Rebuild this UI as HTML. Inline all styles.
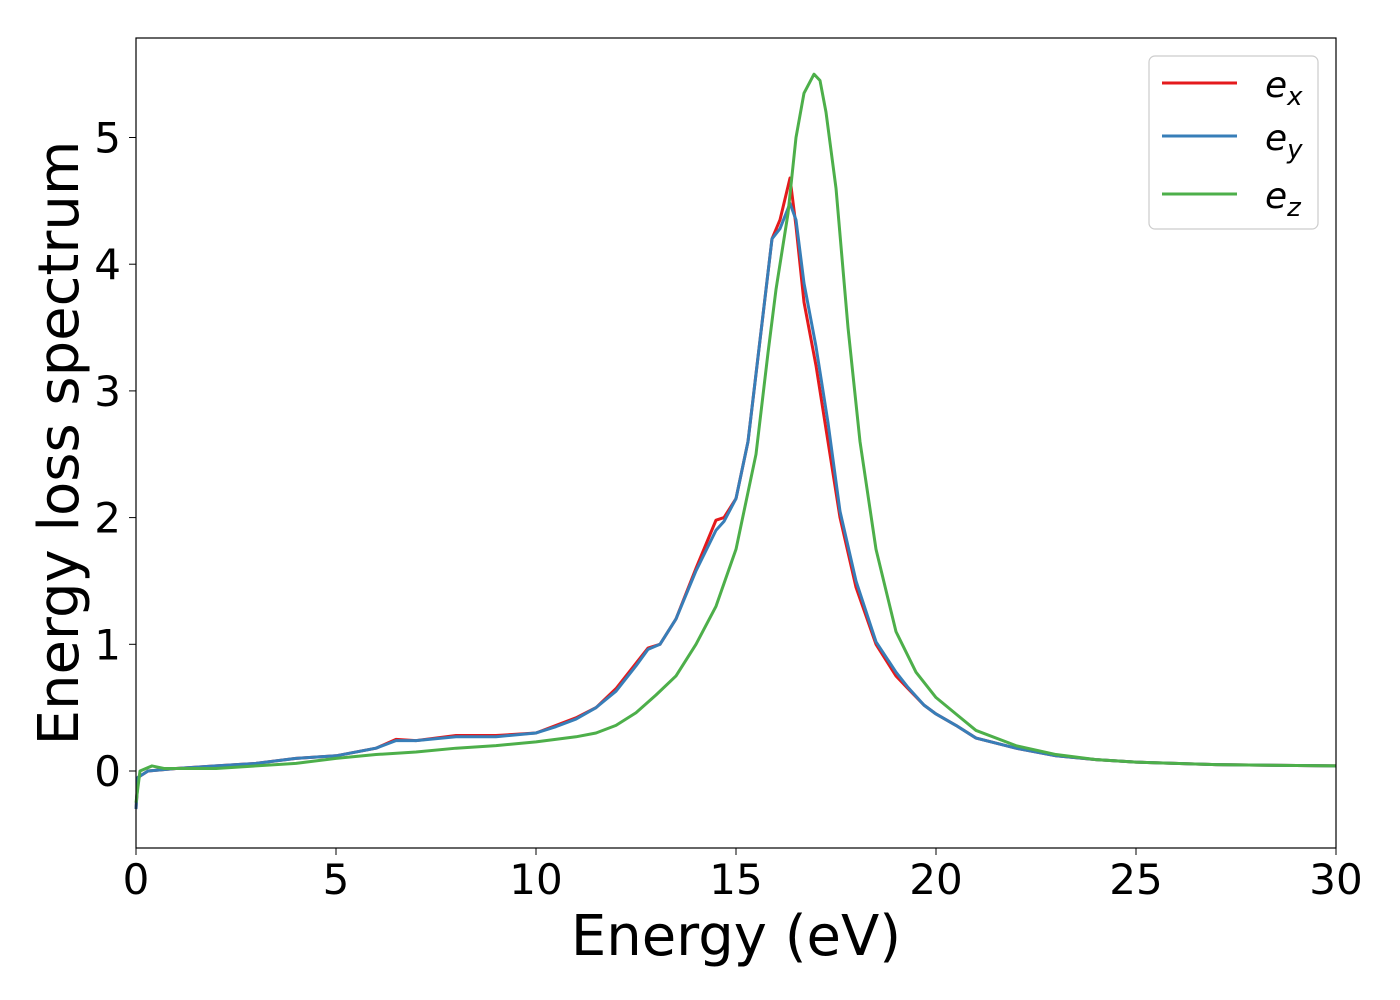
<!DOCTYPE html>
<html><head><meta charset="utf-8"><style>
body{margin:0;background:#fff;}
svg{display:block;font-family:"DejaVu Sans","Liberation Sans",sans-serif;}
</style></head><body>
<svg id="chart" width="1400" height="1000" viewBox="0 0 1400 1000" xmlns="http://www.w3.org/2000/svg">
<rect x="0" y="0" width="1400" height="1000" fill="#fff"/>
<g id="series"></g>
<rect x="136" y="38" width="1200" height="810" fill="none" stroke="#000" stroke-width="1.2"/>
<g id="xticks"></g><g id="yticks"></g>
<text x="736" y="955" font-size="56" text-anchor="middle">Energy (eV)</text>
<text transform="translate(78,443) rotate(-90)" font-size="56" text-anchor="middle">Energy loss spectrum</text>
<g>
<rect x="1149" y="56" width="169" height="173" rx="6" fill="#fff" stroke="#ccc" stroke-width="1.2"/>
<line x1="1162" y1="83" x2="1237" y2="83" stroke="#e41a1c" stroke-width="3"/>
<text x="1265" y="97" font-size="36" font-style="italic">e<tspan font-size="26" dy="8">x</tspan></text>
<line x1="1162" y1="136" x2="1237" y2="136" stroke="#377eb8" stroke-width="3"/>
<text x="1265" y="150" font-size="36" font-style="italic">e<tspan font-size="26" dy="8">y</tspan></text>
<line x1="1162" y1="194" x2="1237" y2="194" stroke="#4daf4a" stroke-width="3"/>
<text x="1265" y="208" font-size="36" font-style="italic">e<tspan font-size="26" dy="8">z</tspan></text>
</g>
</svg>
<script>
const xTickLabels=["0","5","10","15","20","25","30"];
const yTickLabels=["0","1","2","3","4","5"];
const exE=[0,0.05,0.3,1,2,3,4,5,6,6.5,7,8,9,10,10.5,11,11.5,12,12.5,12.8,13.1,13.5,14,14.5,14.7,15,15.3,15.6,15.9,16.1,16.35,16.5,16.7,17,17.3,17.6,18,18.5,19,19.3,19.7,20,20.5,21,22,23,24,25,27,30];
const exV=[-0.3,-0.05,0,0.02,0.04,0.06,0.1,0.12,0.18,0.25,0.24,0.28,0.28,0.3,0.36,0.42,0.5,0.65,0.85,0.97,1.0,1.2,1.6,1.98,2.0,2.15,2.6,3.4,4.2,4.35,4.68,4.3,3.7,3.2,2.6,2.0,1.45,1.0,0.75,0.65,0.52,0.45,0.36,0.26,0.18,0.12,0.09,0.07,0.05,0.04];
const eyE=exE;
const eyV=[-0.3,-0.05,0,0.02,0.04,0.06,0.1,0.12,0.18,0.24,0.24,0.27,0.27,0.3,0.35,0.41,0.5,0.63,0.83,0.96,1.0,1.2,1.58,1.9,1.97,2.15,2.6,3.4,4.2,4.28,4.48,4.35,3.85,3.35,2.75,2.05,1.5,1.02,0.78,0.66,0.52,0.45,0.36,0.26,0.18,0.12,0.09,0.07,0.05,0.04];
const ezE=[0,0.1,0.4,0.7,1,2,3,4,5,6,7,8,9,10,11,11.5,12,12.5,13,13.5,14,14.5,15,15.5,15.8,16,16.3,16.5,16.7,16.95,17.1,17.25,17.5,17.8,18.1,18.5,19,19.5,20,20.5,21,22,23,24,25,27,30];
const ezV=[-0.25,0,0.04,0.02,0.02,0.02,0.04,0.06,0.1,0.13,0.15,0.18,0.2,0.23,0.27,0.3,0.36,0.46,0.6,0.75,1.0,1.3,1.75,2.5,3.3,3.8,4.4,5.0,5.35,5.5,5.45,5.2,4.6,3.5,2.6,1.75,1.1,0.78,0.58,0.45,0.32,0.2,0.13,0.09,0.07,0.05,0.04];
const X=e=>136+e*40;
const Y=v=>771-v*126.7;
const NS="http://www.w3.org/2000/svg";
const sg=document.getElementById('series');
function draw(E,V,color,name){
  const p=document.createElementNS(NS,'polyline');
  
  
  p.setAttribute('points',E.map((e,i)=>X(e)+','+Y(V[i])).join(' '));
  p.setAttribute('fill','none');p.setAttribute('stroke',color);
  p.setAttribute('stroke-width','3');p.setAttribute('stroke-linejoin','round');
  sg.appendChild(p);
}
draw(exE,exV,'#e41a1c','series-ex');
draw(eyE,eyV,'#377eb8','series-ey');
draw(ezE,ezV,'#4daf4a','series-ez');
const xt=document.getElementById('xticks');
xTickLabels.forEach(l=>{
  const x=X(+l);
  const ln=document.createElementNS(NS,'line');
  
  
  ln.setAttribute('x1',x);ln.setAttribute('x2',x);ln.setAttribute('y1',848);ln.setAttribute('y2',855);ln.setAttribute('stroke','#000');
  xt.appendChild(ln);
  const t=document.createElementNS(NS,'text');
  
  
  t.setAttribute('x',x);t.setAttribute('y',894);t.setAttribute('font-size','42');t.setAttribute('text-anchor','middle');
  t.textContent=l;xt.appendChild(t);
});
const yt=document.getElementById('yticks');
yTickLabels.forEach(l=>{
  const y=Y(+l);
  const ln=document.createElementNS(NS,'line');
  
  
  ln.setAttribute('x1',129);ln.setAttribute('x2',136);ln.setAttribute('y1',y);ln.setAttribute('y2',y);ln.setAttribute('stroke','#000');
  yt.appendChild(ln);
  const t=document.createElementNS(NS,'text');
  
  
  t.setAttribute('x',121);t.setAttribute('y',y+15);t.setAttribute('font-size','42');t.setAttribute('text-anchor','end');
  t.textContent=l;yt.appendChild(t);
});
</script>
</body></html>
